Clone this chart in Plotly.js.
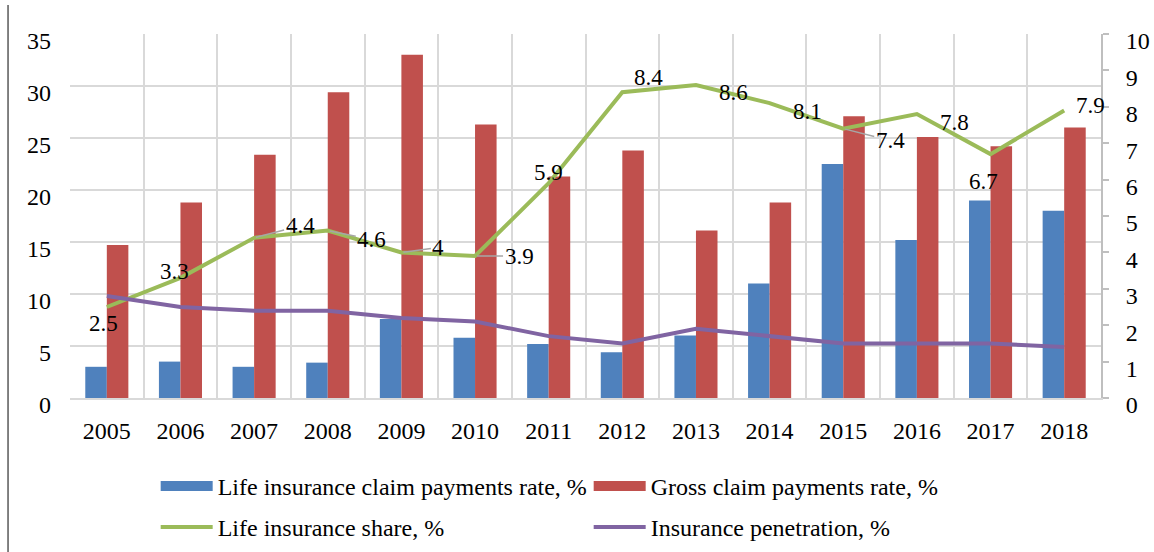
<!DOCTYPE html>
<html>
<head>
<meta charset="utf-8">
<script src="https://cdn.plot.ly/plotly-3.0.1.min.js"></script>
<style>html,body{margin:0;padding:0;background:#fff;}#chart{width:1154px;height:552px;}</style>
</head>
<body>
<div id="chart"></div>
<script>
var years = ['2005','2006','2007','2008','2009','2010','2011','2012','2013','2014','2015','2016','2017','2018'];
var lifeClaimRate = [3.0, 3.5, 3.0, 3.4, 7.6, 5.8, 5.2, 4.4, 6.0, 11.0, 22.5, 15.2, 19.0, 18.0];
var grossClaimRate = [14.7, 18.8, 23.4, 29.4, 33.0, 26.3, 21.3, 23.8, 16.1, 18.8, 27.1, 25.1, 24.2, 26.0];
var lifeShare = [2.5, 3.3, 4.4, 4.6, 4.0, 3.9, 5.9, 8.4, 8.6, 8.1, 7.4, 7.8, 6.7, 7.9];
var penetration = [2.8, 2.5, 2.4, 2.4, 2.2, 2.1, 1.7, 1.5, 1.9, 1.7, 1.5, 1.5, 1.5, 1.4];
var leftTicks = [0, 5, 10, 15, 20, 25, 30, 35];
var rightTicks = [0, 1, 2, 3, 4, 5, 6, 7, 8, 9, 10];

// label placement (pixel offsets of the label from its point; leader = draw gray leader line)
var labelOffsets = [
  {dx:-3, dy:16}, {dx:-6, dy:-6}, {dx:46, dy:-12, leader:true}, {dx:44, dy:9, leader:true},
  {dx:37, dy:-5, leader:true}, {dx:44, dy:0, leader:true}, {dx:0, dy:-11}, {dx:26, dy:-15},
  {dx:38, dy:8}, {dx:38, dy:8}, {dx:47, dy:12, leader:true}, {dx:38, dy:8},
  {dx:-7, dy:27}, {dx:26, dy:-5}
];

var FONT = 'Liberation Serif, serif';
var BLUE = '#4F81BD', RED = '#C0504D', GREEN = '#9BBB59', PURPLE = '#8064A2';

var traces = [
  {type:'bar', x:years, y:lifeClaimRate, name:'Life insurance claim payments rate, %', marker:{color:BLUE}, showlegend:false},
  {type:'bar', x:years, y:grossClaimRate, name:'Gross claim payments rate, %', marker:{color:RED}, showlegend:false},
  {type:'scatter', mode:'lines', x:years, y:lifeShare, yaxis:'y2', name:'Life insurance share, %', line:{color:GREEN, width:4}, showlegend:false},
  {type:'scatter', mode:'lines', x:years, y:penetration, yaxis:'y2', name:'Insurance penetration, %', line:{color:PURPLE, width:4}, showlegend:false},
  // legend entries
  {type:'scatter', mode:'lines', x:[years[0]], y:[null], name:'Life insurance claim payments rate, %', line:{color:BLUE, width:12}, legend:'legend'},
  {type:'scatter', mode:'lines', x:[years[0]], y:[null], name:'Gross claim payments rate, %', line:{color:RED, width:12}, legend:'legend'},
  {type:'scatter', mode:'lines', x:[years[0]], y:[null], yaxis:'y2', name:'Life insurance share, %', line:{color:GREEN, width:4}, legend:'legend2'},
  {type:'scatter', mode:'lines', x:[years[0]], y:[null], yaxis:'y2', name:'Insurance penetration, %', line:{color:PURPLE, width:4}, legend:'legend2'}
];

var annotations = lifeShare.map(function(v, i){
  var o = labelOffsets[i];
  var a = {x: i, y: v, xref:'x', yref:'y2', text: String(v),
    font:{family:FONT, size:23, color:'#000'}, xanchor:'center', yanchor:'middle'};
  if (o.leader) {
    a.showarrow = true; a.ax = o.dx; a.ay = o.dy; a.arrowhead = 0; a.arrowwidth = 1.5;
    a.arrowcolor = '#A6A6A6'; a.standoff = 2;
  } else {
    a.showarrow = false; a.xshift = o.dx; a.yshift = -o.dy;
  }
  return a;
});

var layout = {
  width:1154, height:552,
  margin:{l:70, r:53, t:34, b:154, autoexpand:false},
  paper_bgcolor:'#fff', plot_bgcolor:'#fff',
  font:{family:FONT, size:24, color:'#000'},
  barmode:'group', bargap:0.415, bargroupgap:0,
  xaxis:{type:'category', categoryarray:years, categoryorder:'array', range:[-0.5, 13.5], autorange:false,
    tickson:'boundaries', showgrid:true, gridcolor:'#D9D9D9', gridwidth:2, tickangle:0,
    showline:true, linecolor:'#D9D9D9', linewidth:2, ticks:'', ticklabelstandoff:10,
    tickfont:{family:FONT, size:24}},
  yaxis:{range:[0,35], autorange:false, tickvals:leftTicks, showgrid:true, gridcolor:'#D9D9D9', gridwidth:2,
    zeroline:false, showline:false, ticks:'', ticklabelstandoff:18, ticklabelshift:7, tickfont:{family:FONT, size:24}},
  yaxis2:{range:[0,10], autorange:false, tickvals:rightTicks, overlaying:'y', side:'right', showgrid:false, zeroline:false,
    showline:true, linecolor:'#BFBFBF', linewidth:2, ticks:'outside', ticklen:6, tickcolor:'#BFBFBF', tickwidth:2,
    ticklabelstandoff:12, ticklabelshift:7, tickfont:{family:FONT, size:24}},
  legend:{orientation:'h', x:0.0831, xanchor:'left', y:-0.181, yanchor:'top', itemwidth:52, entrywidth:366,
    font:{family:FONT, size:24}, bgcolor:'rgba(0,0,0,0)', tracegroupgap:0},
  legend2:{orientation:'h', x:0.0831, xanchor:'left', y:-0.294, yanchor:'top', itemwidth:52, entrywidth:366,
    font:{family:FONT, size:24}, bgcolor:'rgba(0,0,0,0)', tracegroupgap:0},
  annotations: annotations,
  shapes:[{type:'line', xref:'paper', yref:'paper', x0:-0.0601, x1:-0.0601, y0:1.08, y1:-0.43,
    line:{color:'#595959', width:1.5}}],
  showlegend:true
};

Plotly.newPlot('chart', traces, layout, {displayModeBar:false, staticPlot:true});
</script>
</body>
</html>
